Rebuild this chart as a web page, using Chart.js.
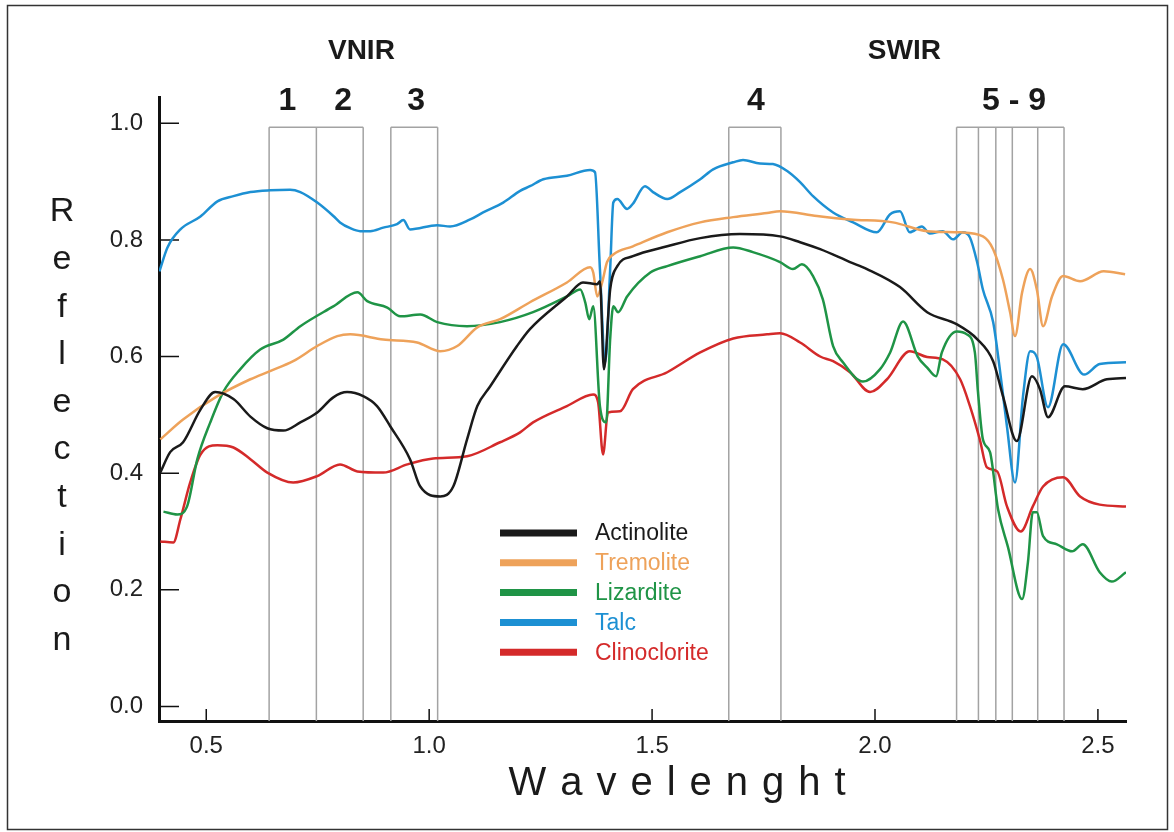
<!DOCTYPE html>
<html>
<head>
<meta charset="utf-8">
<script src="https://cdn.jsdelivr.net/npm/chart.js@4.4.1/dist/chart.umd.min.js"></script>
<style>
  html, body { margin: 0; padding: 0; background: #fff; }
</style>
</head>
<body>
<canvas id="chart" width="1174" height="832"></canvas>
<script>
// spectra: wavelength (µm) and reflection
const actinoliteX = [0.397,0.419,0.448,0.487,0.520,0.561,0.599,0.637,0.673,0.711,0.749,0.785,0.816,0.852,0.883,0.913,0.957,0.980,1.025,1.054,1.085,1.108,1.137,1.197,1.226,1.309,1.345,1.377,1.383,1.392,1.406,1.422,1.457,1.534,1.608,1.697,1.787,1.832,1.877,1.944,1.982,2.056,2.117,2.184,2.229,2.265,2.287,2.318,2.352,2.370,2.388,2.426,2.466,2.520,2.563];
const actinoliteY = [0.401,0.436,0.453,0.509,0.539,0.527,0.497,0.477,0.473,0.487,0.504,0.530,0.539,0.532,0.515,0.480,0.424,0.377,0.360,0.377,0.458,0.515,0.549,0.618,0.647,0.703,0.727,0.724,0.729,0.578,0.715,0.755,0.772,0.789,0.803,0.810,0.806,0.796,0.784,0.762,0.750,0.719,0.676,0.655,0.630,0.592,0.532,0.455,0.566,0.544,0.496,0.549,0.544,0.561,0.563];

const tremoliteX = [0.397,0.448,0.525,0.599,0.643,0.695,0.749,0.794,0.823,0.897,0.973,1.025,1.063,1.108,1.159,1.226,1.309,1.361,1.368,1.377,1.388,1.399,1.413,1.457,1.534,1.608,1.682,1.758,1.787,1.870,1.944,2.040,2.117,2.191,2.242,2.265,2.287,2.303,2.314,2.330,2.348,2.363,2.377,2.397,2.422,2.460,2.513,2.561];
const tremoliteY = [0.458,0.492,0.532,0.561,0.575,0.592,0.618,0.635,0.638,0.629,0.624,0.609,0.618,0.650,0.664,0.693,0.727,0.753,0.744,0.703,0.727,0.762,0.775,0.789,0.813,0.830,0.839,0.846,0.849,0.841,0.835,0.830,0.815,0.813,0.806,0.784,0.732,0.676,0.635,0.710,0.750,0.715,0.652,0.703,0.738,0.729,0.746,0.741];

const lizarditeX = [0.404,0.435,0.457,0.480,0.509,0.538,0.576,0.621,0.673,0.711,0.785,0.839,0.861,0.906,0.935,0.980,1.018,1.085,1.159,1.233,1.309,1.339,1.350,1.359,1.368,1.383,1.397,1.406,1.413,1.424,1.444,1.496,1.534,1.608,1.682,1.726,1.787,1.816,1.836,1.861,1.883,1.906,1.928,1.973,2.011,2.034,2.063,2.096,2.117,2.137,2.150,2.184,2.206,2.224,2.231,2.242,2.258,2.276,2.298,2.330,2.343,2.354,2.363,2.377,2.408,2.442,2.466,2.504,2.531,2.563];
const lizarditeY = [0.334,0.329,0.343,0.424,0.487,0.539,0.578,0.612,0.629,0.652,0.686,0.710,0.695,0.684,0.669,0.672,0.659,0.652,0.659,0.676,0.703,0.715,0.693,0.664,0.686,0.515,0.487,0.630,0.686,0.676,0.703,0.744,0.755,0.772,0.787,0.779,0.762,0.750,0.758,0.738,0.698,0.618,0.590,0.557,0.578,0.607,0.660,0.600,0.581,0.566,0.607,0.643,0.638,0.607,0.539,0.458,0.436,0.338,0.274,0.184,0.247,0.333,0.333,0.292,0.278,0.266,0.278,0.230,0.214,0.230];

const talcX = [0.395,0.413,0.442,0.487,0.525,0.561,0.599,0.643,0.688,0.711,0.749,0.785,0.800,0.823,0.845,0.868,0.897,0.928,0.942,0.957,1.018,1.047,1.092,1.121,1.166,1.204,1.226,1.256,1.309,1.361,1.372,1.383,1.395,1.406,1.413,1.422,1.444,1.457,1.484,1.502,1.534,1.563,1.608,1.637,1.682,1.704,1.742,1.771,1.803,1.832,1.861,1.906,1.951,2.004,2.034,2.056,2.078,2.105,2.123,2.152,2.175,2.197,2.213,2.229,2.242,2.265,2.280,2.296,2.314,2.332,2.348,2.363,2.388,2.422,2.469,2.504,2.563];
const talcY = [0.746,0.787,0.818,0.840,0.866,0.875,0.882,0.885,0.886,0.882,0.864,0.841,0.830,0.820,0.815,0.815,0.821,0.827,0.834,0.818,0.825,0.823,0.835,0.847,0.864,0.884,0.892,0.904,0.910,0.920,0.916,0.750,0.590,0.750,0.864,0.870,0.853,0.862,0.892,0.882,0.870,0.882,0.904,0.921,0.933,0.937,0.931,0.930,0.918,0.899,0.875,0.847,0.830,0.813,0.844,0.849,0.813,0.823,0.811,0.815,0.801,0.813,0.804,0.762,0.715,0.659,0.578,0.480,0.384,0.532,0.609,0.599,0.513,0.621,0.569,0.587,0.590];

const clinocloriteX = [0.397,0.426,0.442,0.464,0.487,0.525,0.561,0.599,0.637,0.695,0.749,0.800,0.839,0.897,0.951,1.009,1.085,1.159,1.204,1.233,1.309,1.368,1.379,1.390,1.401,1.428,1.457,1.534,1.608,1.682,1.758,1.787,1.832,1.877,1.906,1.944,1.989,2.027,2.078,2.117,2.152,2.191,2.213,2.235,2.251,2.274,2.296,2.327,2.354,2.377,2.422,2.460,2.504,2.563];
const clinocloriteY = [0.283,0.281,0.321,0.384,0.432,0.448,0.444,0.424,0.401,0.384,0.395,0.415,0.403,0.401,0.415,0.425,0.429,0.453,0.470,0.487,0.515,0.535,0.521,0.432,0.504,0.506,0.544,0.573,0.607,0.631,0.638,0.640,0.624,0.600,0.592,0.573,0.539,0.561,0.609,0.599,0.595,0.561,0.515,0.458,0.410,0.403,0.343,0.300,0.343,0.377,0.393,0.360,0.346,0.343];

// absorption windows (band edges in µm) and their labels
const bandGroups = [[0.641, 0.747, 0.852], [0.914, 1.019], [1.672, 1.789], [2.183, 2.232, 2.271, 2.308, 2.365, 2.424]];
const bandTop = 0.993;
const bandLabels = ['1', '2', '3', '4', '5 - 9'];
const bandLabelAt = [0.682, 0.807, 0.971, 1.733, 2.312];
const regionLabels = ['VNIR', 'SWIR'];
const regionLabelAt = [0.848, 2.066];

const FONT = '"Liberation Sans", Arial, sans-serif';

function pts(xs, ys) {
    return xs.map((x, i) => ({ x: x, y: ys[i] }));
}

function series(label, xs, ys, color) {
    return {
        label: label,
        data: pts(xs, ys),
        borderColor: color,
        borderWidth: 2.5,
        pointRadius: 0,
        fill: false,
        cubicInterpolationMode: 'monotone'
    };
}

const overlay = {
    id: 'overlay',
    beforeDraw(chart) {
        const c = chart.ctx;
        c.save();
        c.fillStyle = '#fff';
        c.fillRect(0, 0, chart.width, chart.height);
        c.strokeStyle = '#333';
        c.lineWidth = 1.5;
        c.strokeRect(7.5, 5.5, 1160, 824);
        c.restore();
    },
    beforeDatasetsDraw(chart) {
        const c = chart.ctx;
        const xs = chart.scales.x, ys = chart.scales.y;
        const bottom = chart.chartArea.bottom, top = ys.getPixelForValue(bandTop);
        c.save();
        c.strokeStyle = '#a3a3a3';
        c.lineWidth = 1.5;
        bandGroups.forEach(g => {
            c.beginPath();
            g.forEach(w => {
                const px = xs.getPixelForValue(w);
                c.moveTo(px, bottom);
                c.lineTo(px, top);
            });
            c.moveTo(xs.getPixelForValue(g[0]), top);
            c.lineTo(xs.getPixelForValue(g[g.length - 1]), top);
            c.stroke();
        });
        // inward tick marks
        c.strokeStyle = '#111';
        c.lineWidth = 1.5;
        c.beginPath();
        ys.ticks.forEach(t => {
            const py = ys.getPixelForValue(t.value);
            c.moveTo(chart.chartArea.left, py);
            c.lineTo(chart.chartArea.left + 20, py);
        });
        xs.ticks.forEach(t => {
            const px = xs.getPixelForValue(t.value);
            c.moveTo(px, bottom);
            c.lineTo(px, bottom - 12);
        });
        c.stroke();
        c.restore();
    },
    afterDraw(chart) {
        const c = chart.ctx;
        const xs = chart.scales.x;
        c.save();
        c.fillStyle = '#1a1a1a';
        c.textAlign = 'center';
        c.textBaseline = 'middle';

        c.font = 'bold 28px ' + FONT;
        regionLabels.forEach((t, i) => c.fillText(t, xs.getPixelForValue(regionLabelAt[i]), 51));
        c.font = 'bold 32px ' + FONT;
        bandLabels.forEach((t, i) => c.fillText(t, xs.getPixelForValue(bandLabelAt[i]), 101));

        // y title, letters stacked upright
        c.font = '34px ' + FONT;
        'Reflection'.split('').forEach((ch, i) => c.fillText(ch, 62, 212 + i * 47.6));

        // x title, letter spaced
        c.font = '40px ' + FONT;
        const word = 'Wavelenght'.split('');
        const gap = 14;
        const total = word.reduce((s, ch) => s + c.measureText(ch).width, 0) + gap * (word.length - 1);
        let x = 677 - total / 2;
        c.textAlign = 'left';
        word.forEach(ch => {
            c.fillText(ch, x, 784);
            x += c.measureText(ch).width + gap;
        });

        // legend
        c.font = '23px ' + FONT;
        chart.data.datasets.forEach((ds, i) => {
            const y = 533 + i * 29.8;
            c.strokeStyle = ds.borderColor;
            c.lineWidth = 7;
            c.beginPath();
            c.moveTo(500, y);
            c.lineTo(577, y);
            c.stroke();
            c.fillStyle = ds.borderColor;
            c.fillText(ds.label, 595, y + 1);
        });
        c.restore();
    }
};

const tickFont = { family: FONT, size: 24 };

new Chart(document.getElementById('chart'), {
    type: 'line',
    data: {
        datasets: [
            series('Actinolite', actinoliteX, actinoliteY, '#1a1a1a'),
            series('Tremolite', tremoliteX, tremoliteY, '#eea25a'),
            series('Lizardite', lizarditeX, lizarditeY, '#1f9446'),
            series('Talc', talcX, talcY, '#1d90d3'),
            series('Clinoclorite', clinocloriteX, clinocloriteY, '#d42a2a')
        ]
    },
    options: {
        responsive: false,
        animation: false,
        layout: { padding: { top: 97, right: 48, left: 0, bottom: 0 } },
        plugins: { legend: { display: false }, tooltip: { enabled: false } },
        scales: {
            x: {
                type: 'linear',
                min: 0.394,
                max: 2.563,
                afterFit: s => { s.height = 111; },
                grid: { display: false, drawTicks: false },
                border: { display: true, width: 3, color: '#111' },
                ticks: {
                    stepSize: 0.5, includeBounds: false, padding: 11, color: '#222',
                    font: tickFont, maxRotation: 0, autoSkip: false,
                    callback: v => v.toFixed(1)
                }
            },
            y: {
                min: -0.025,
                max: 1.045,
                afterFit: s => { s.width = 159; },
                grid: { display: false, drawTicks: false },
                border: { display: true, width: 3, color: '#111' },
                ticks: {
                    stepSize: 0.2, includeBounds: false, padding: 16, color: '#222',
                    font: tickFont, callback: v => v.toFixed(1)
                }
            }
        }
    },
    plugins: [overlay]
});
</script>
</body>
</html>
